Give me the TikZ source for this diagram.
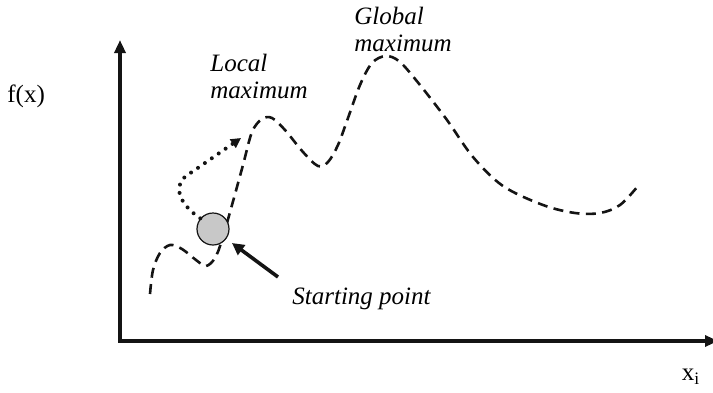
\documentclass[tikz,border=0pt]{standalone}
\usepackage{fontspec}
\setmainfont{Liberation Serif}
\usepackage{xcolor}
\usepackage{tikz}
\usetikzlibrary{arrows.meta, positioning, calc}
\definecolor{mydark}{RGB}{20,20,20}
\definecolor{ballgray}{RGB}{200,200,200}
\tikzset{
  axis/.style={-{Triangle[length=6.5pt, width=5.5pt]}, line width=1.8pt, color=mydark},
  curve/.style={line width=1.3pt, color=mydark, dash pattern=on 5pt off 3.2pt},
  dotarrow/.style={-{Triangle[length=5pt, width=5pt]}, line width=2pt,
    color=mydark, line cap=round, dash pattern=on 0pt off 4.2pt},
  pointer/.style={-{Triangle[length=6pt, width=6pt]}, line width=1.8pt, color=mydark},
  startpt/.style={circle, draw=mydark, fill=ballgray, minimum size=16pt,
    inner sep=0pt, line width=0.6pt},
  tag/.style={font=\fontsize{12.5}{13.5}\selectfont\itshape, align=left,
    inner sep=0pt, anchor=west},
  axlabel/.style={font=\fontsize{12.5}{13.5}\selectfont, inner sep=0pt}
}
\begin{document}
\begin{tikzpicture}[x=0.5pt, y=-0.5pt]
  \useasboundingbox (0,0) rectangle (713,392);

  % Axes
  \coordinate (origin) at (120,341);
  \coordinate (ytop) at (120,40);
  \coordinate (xend) at (718,341);
  \draw[axis] (origin) -- (ytop);
  \draw[axis] ([xshift=-0.9pt]origin) -- (xend);
  \node[axlabel, anchor=west] (fx) at (7,96) {f(x)};
  \node[axlabel] (xi) at (691,377) {x\textsubscript{i}};

  % Objective curve
  \draw[curve] plot[smooth, tension=0.55] coordinates {
    (150,294) (153,270) (160,253) (170,245) (182,249) (196,260) (206,266)
    (215,258) (222,240) (232,205) (243,165) (252,132) (262,119) (272,118)
    (285,130) (303,152) (318,166) (328,162) (338,145) (348,118) (360,85)
    (372,63) (386,56) (400,62) (420,85) (447,120) (473,157) (503,186)
    (543,205) (575,213) (600,213) (620,205) (638,186)};

  % Starting point and climb
  \node[startpt] (start) at (213,229) {};
  \coordinate (climb) at (241,138);
  \draw[dotarrow] (start.140) .. controls (176,202) and (172,182) .. (192,172) -- (climb);
  \coordinate (ptail) at (278,277);
  \draw[pointer, shorten >=3.5pt] (ptail) -- (start);

  % Labels
  \node[tag] (localtxt) at (210,76) {Local\\maximum};
  \node[tag] (globaltxt) at (354,29) {Global\\maximum};
  \node[tag] (starttxt) at (292,299) {Starting point};
\end{tikzpicture}
\end{document}
